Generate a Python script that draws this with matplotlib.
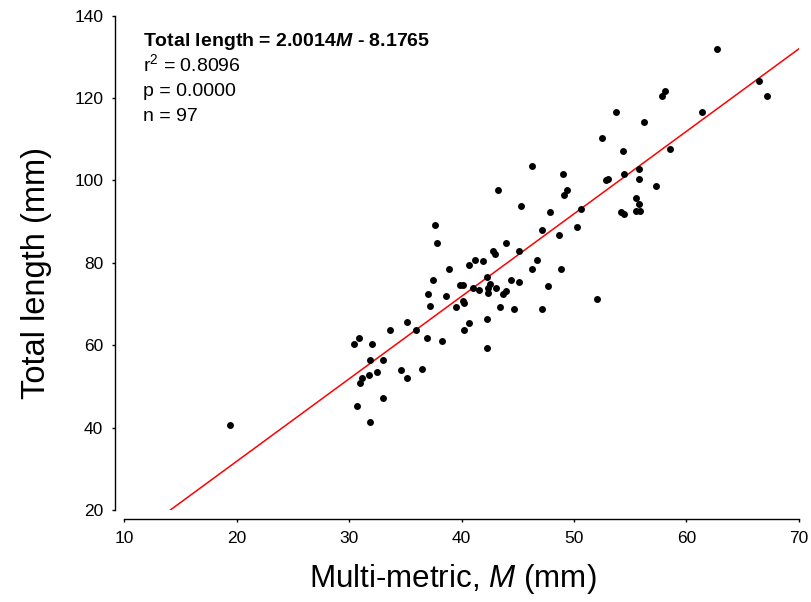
import numpy as np
import matplotlib
matplotlib.use("Agg")
import matplotlib.pyplot as plt

plt.rcParams.update({
    "font.family": ["Liberation Sans", "DejaVu Sans"],
    "mathtext.fontset": "custom",
    "mathtext.rm": "Liberation Sans",
    "mathtext.it": "Liberation Sans:italic",
    "mathtext.bf": "Liberation Sans:italic:bold",
})

# ---------- data ----------
multi_metric = [
    19.39, 30.42, 30.87, 32.00, 31.85, 33.00, 34.58, 35.18, 36.49, 32.44,
    31.73, 31.14, 31.00, 33.00, 30.72, 31.85, 33.60, 35.18, 35.91, 36.92,
    38.23, 37.19, 39.50, 40.10, 40.24, 40.66, 40.21, 42.23, 42.23, 43.39,
    44.66, 47.13, 52.02, 47.71, 43.71, 43.95, 43.06, 42.35, 42.35, 41.59,
    42.53, 44.40, 45.11, 42.23, 40.99, 39.86, 40.10, 38.64, 37.04, 37.48,
    38.90, 40.68, 41.22, 41.95, 37.63, 37.78, 42.82, 42.97, 43.95, 45.11,
    46.71, 46.24, 48.84, 47.13, 48.69, 50.30, 50.60, 47.87, 45.26, 43.24,
    46.26, 49.00, 49.41, 49.14, 52.47, 53.77, 56.20, 54.34, 54.48, 55.76,
    55.76, 52.85, 53.05, 57.33, 55.49, 55.76, 55.49, 55.90, 54.16, 54.48,
    57.81, 58.07, 58.52, 61.39, 62.70, 66.44, 67.15,
]
total_length = [
    40.64, 60.23, 61.76, 60.23, 56.34, 56.34, 53.92, 51.97, 54.30, 53.50,
    52.73, 52.00, 50.76, 47.26, 45.32, 41.36, 63.70, 65.64, 63.70, 61.76,
    60.96, 69.53, 69.21, 70.74, 70.33, 65.28, 63.70, 66.44, 59.40, 69.21,
    68.80, 68.80, 71.15, 74.31, 72.37, 73.10, 73.90, 73.82, 72.76, 73.53,
    74.80, 75.84, 75.43, 76.64, 73.90, 74.70, 74.70, 71.95, 72.37, 75.84,
    78.58, 79.41, 80.62, 80.57, 89.19, 84.82, 82.88, 82.08, 84.82, 82.88,
    80.70, 78.58, 78.58, 87.98, 86.84, 88.78, 93.08, 92.27, 93.80, 97.69,
    103.59, 101.65, 97.76, 96.55, 110.31, 116.55, 114.20, 107.16, 101.65, 102.86,
    100.43, 100.04, 100.43, 98.59, 95.82, 94.29, 92.66, 92.66, 92.35, 91.93,
    120.44, 121.65, 107.57, 116.55, 131.85, 124.08, 120.51,
]
slope, intercept = 2.0014, -8.1765
fit_range = [14, 70]
stats_lines = ["r$^2$ = 0.8096", "p = 0.0000", "n = 97"]
x_ticks = [10, 20, 30, 40, 50, 60, 70]
y_ticks = [20, 40, 60, 80, 100, 120, 140]

# ---------- figure ----------
fig = plt.figure(figsize=(8.11, 6.02), dpi=100)
ax = fig.add_axes([0.1535, 0.1528, 0.8313, 0.8211])

ax.scatter(multi_metric, total_length, s=25, color="black", linewidths=0, zorder=3)
fx = np.array(fit_range, dtype=float)
ax.plot(fx, slope * fx + intercept, color="red", lw=1.1, zorder=2)

ax.set_xlim(10, 70); ax.set_ylim(20, 140)
ax.set_xticks(x_ticks); ax.set_yticks(y_ticks)
for s in ("top", "right"):
    ax.spines[s].set_visible(False)
for s in ("left", "bottom"):
    ax.spines[s].set_position(("outward", 6.8))
    ax.spines[s].set_linewidth(1.0)
ax.tick_params(direction="out", length=2.5, width=1.0, labelsize=12.5)
ax.tick_params(axis="x", pad=6)
ax.tick_params(axis="y", pad=6)

ax.set_xlabel("Multi-metric, $M$ (mm)", fontsize=22.6)
ax.set_ylabel("Total length (mm)", fontsize=23.5)
ax.xaxis.set_label_coords(0.487, -0.106)
ax.yaxis.set_label_coords(-0.108, 0.479)

x0 = 0.0274
ax.text(x0, 0.9393, r"Total length = 2.0014$\mathbf{M}$ - 8.1765", transform=ax.transAxes,
        fontsize=14, fontweight="bold", va="baseline")
for i, line in enumerate(stats_lines):
    ax.text(x0, 0.8881 - 0.0506 * i, line, transform=ax.transAxes, fontsize=14, va="baseline")

fig.savefig("out.png", dpi=100)
